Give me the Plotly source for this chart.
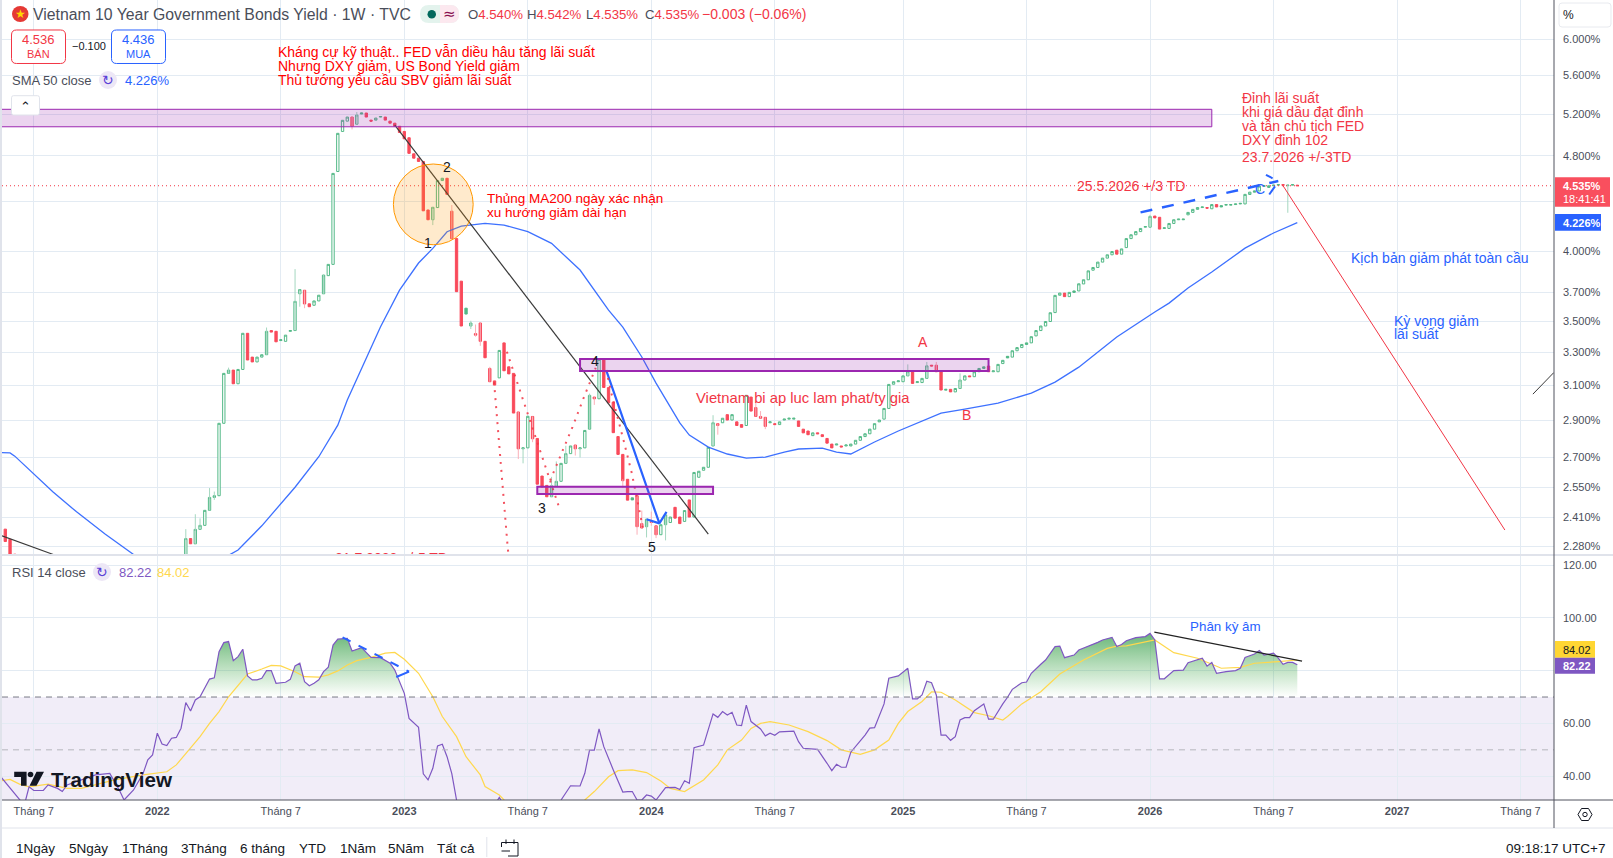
import math
import plotly.graph_objects as go

W = 1613
H = 858

# week index: 0 is the first bar of Jan 2022, the axis counts bars like TradingView does
weeks = [-32, -31, -30] + list(range(6, 241))
opens = [2.355, 2.31, 2.245,
    2.20, 2.313, 2.29, 2.354, 2.372, 2.441, 2.502, 2.51, 2.882, 3.17,
    3.19, 3.108, 3.194, 3.422, 3.27, 3.24, 3.27, 3.285, 3.44, 3.435,
    3.375, 3.37, 3.435, 3.44, 3.69, 3.715, 3.62, 3.61, 3.64, 3.69,
    3.82, 3.903, 4.66, 5.03, 5.13, 5.17, 5.10, 5.20, 5.21, 5.14,
    5.14, 5.17, 5.17, 5.13, 5.11, 5.08, 5.03, 4.97, 4.82, 4.78,
    4.75, 4.33, 4.25, 4.35, 4.58, 4.60, 4.32, 4.10, 3.78, 3.55,
    3.47, 3.42, 3.49, 3.37, 3.20, 3.125, 3.143, 3.36, 3.21, 3.17,
    2.945, 2.745, 2.75, 2.92, 2.80, 2.606, 2.56, 2.505, 2.555, 2.58,
    2.67, 2.72, 2.765, 2.745, 2.75, 2.85, 3.03, 3.02, 3.26, 3.085,
    3.0, 2.81, 2.716, 2.59, 2.49, 2.51, 2.38, 2.366, 2.39, 2.37,
    2.33, 2.375, 2.385, 2.455, 2.41, 2.39, 2.49, 2.41, 2.60, 2.635,
    2.65, 2.76, 2.88, 2.885, 2.93, 2.90, 2.89, 2.875, 2.87, 3.03,
    2.97, 2.92, 2.915, 2.885, 2.88, 2.875, 2.90, 2.905, 2.905, 2.895,
    2.85, 2.84, 2.815, 2.83, 2.82, 2.80, 2.77, 2.765, 2.76, 2.76,
    2.76, 2.77, 2.79, 2.81, 2.825, 2.85, 2.89, 2.905, 2.965, 3.105,
    3.12, 3.12, 3.155, 3.18, 3.115, 3.115, 3.14, 3.22, 3.22, 3.18,
    3.07, 3.075, 3.06, 3.08, 3.13, 3.155, 3.15, 3.18, 3.20, 3.215,
    3.18, 3.18, 3.23, 3.265, 3.27, 3.31, 3.33, 3.35, 3.36, 3.405,
    3.44, 3.47, 3.50, 3.56, 3.68, 3.695, 3.67, 3.70, 3.71, 3.76,
    3.79, 3.86, 3.88, 3.92, 3.95, 3.975, 4.01, 3.98, 4.03, 4.10,
    4.13, 4.155, 4.19, 4.19, 4.28, 4.27, 4.18, 4.18, 4.22, 4.25,
    4.25, 4.29, 4.31, 4.335, 4.35, 4.35, 4.34, 4.375, 4.355, 4.37,
    4.37, 4.375, 4.38, 4.38, 4.46, 4.48, 4.49, 4.53, 4.52, 4.535,
    4.54, 4.545, 4.535, 4.54, 4.540]
closes = [2.30, 2.242, 2.243,
    2.313, 2.29, 2.354, 2.372, 2.441, 2.502, 2.51, 2.882, 3.17, 3.19,
    3.108, 3.194, 3.422, 3.252, 3.24, 3.27, 3.285, 3.435, 3.43, 3.367,
    3.38, 3.41, 3.44, 3.637, 3.72, 3.619, 3.60, 3.64, 3.68, 3.824,
    3.903, 4.643, 5.012, 5.138, 5.17, 5.08, 5.19, 5.21, 5.17, 5.13,
    5.16, 5.175, 5.14, 5.11, 5.08, 5.02, 4.96, 4.824, 4.78, 4.75,
    4.323, 4.25, 4.352, 4.579, 4.60, 4.461, 4.099, 3.705, 3.47, 3.59,
    3.49, 3.41, 3.37, 3.266, 3.12, 3.10, 3.312, 3.186, 3.167, 2.939,
    2.745, 2.75, 2.921, 2.798, 2.566, 2.552, 2.505, 2.558, 2.58, 2.67,
    2.72, 2.76, 2.745, 2.75, 2.843, 3.04, 3.02, 3.256, 3.086, 2.997,
    2.831, 2.716, 2.583, 2.489, 2.50, 2.366, 2.36, 2.40, 2.385, 2.33,
    2.375, 2.42, 2.41, 2.405, 2.38, 2.44, 2.41, 2.624, 2.63, 2.65,
    2.753, 2.885, 2.87, 2.91, 2.90, 2.93, 2.87, 2.86, 3.04, 2.95,
    2.92, 2.91, 2.865, 2.89, 2.875, 2.89, 2.905, 2.91, 2.91, 2.865,
    2.83, 2.82, 2.83, 2.825, 2.81, 2.775, 2.75, 2.77, 2.755, 2.765,
    2.77, 2.79, 2.81, 2.825, 2.85, 2.88, 2.90, 2.965, 3.104, 3.12,
    3.125, 3.155, 3.18, 3.11, 3.12, 3.14, 3.216, 3.215, 3.18, 3.071,
    3.075, 3.06, 3.08, 3.13, 3.155, 3.15, 3.18, 3.20, 3.21, 3.18,
    3.185, 3.225, 3.25, 3.275, 3.31, 3.33, 3.35, 3.36, 3.40, 3.44,
    3.47, 3.50, 3.559, 3.679, 3.695, 3.67, 3.70, 3.71, 3.761, 3.79,
    3.855, 3.88, 3.92, 3.95, 3.975, 4.00, 3.98, 4.02, 4.10, 4.13,
    4.155, 4.18, 4.195, 4.277, 4.265, 4.175, 4.185, 4.22, 4.25, 4.255,
    4.255, 4.31, 4.335, 4.35, 4.355, 4.345, 4.375, 4.355, 4.365, 4.375,
    4.375, 4.38, 4.385, 4.461, 4.48, 4.49, 4.532, 4.535, 4.535, 4.54,
    4.545, 4.54, 4.54, 4.545, 4.535]
# down weeks TradingView paints solid green (close above the previous close)
solid_green = [12, 43, 65, 89, 100, 179, 183, 193, 224, 231, 238]

wick_weeks = [6, 8, 9, 11, 12, 15, 23, 29, 30, 31, 35, 41, 42, 58, 62, 66, 67, 68, 70,
              76, 77, 79, 83, 84, 86, 88, 89, 91, 92, 98, 101, 102, 103, 104, 105, 107,
              117, 118, 126, 127, 128, 158, 162, 164, 169, 209, 238]
wick_highs = [2.355, 2.423, 2.404, 2.547, 2.53, 3.205, 3.46, 3.868, 3.72, 3.715, 3.83, 5.17, 5.22,
              4.352, 4.371, 3.505, 3.48, 3.49, 3.21, 2.945, 2.75, 2.92, 2.602, 2.68, 2.761, 2.765,
              2.75, 3.05, 3.03, 2.59, 2.51, 2.44, 2.40, 2.435, 2.37, 2.42,
              2.927, 2.88, 3.00, 2.95, 2.915, 3.225, 3.24, 3.24, 3.17, 4.29, 4.545]
wick_lows = [2.19, 2.29, 2.354, 2.441, 2.49, 3.17, 3.285, 3.44, 3.60, 3.59, 3.69, 5.05, 5.10,
             4.207, 4.099, 3.45, 3.40, 3.341, 3.12, 2.692, 2.67, 2.78, 2.505, 2.555, 2.67, 2.71,
             2.70, 2.85, 2.985, 2.547, 2.33, 2.36, 2.318, 2.37, 2.315, 2.305,
             2.76, 2.82, 2.92, 2.91, 2.85, 3.155, 3.14, 3.18, 3.08, 4.19, 4.307]

sma_left_weeks = [-33, -31, -30, -28, -25, -22, -17, -11, -5]
sma_left = [2.726, 2.724, 2.707, 2.661, 2.590, 2.529, 2.434, 2.333, 2.244]
sma_weeks = [15, 17, 22, 29, 34, 38, 40, 47, 51, 55, 58, 61, 64, 69, 73, 78, 83, 89, 95, 98,
             102, 105, 110, 112, 116, 120, 124, 128, 132, 135, 140, 143, 146, 151, 156, 162,
             165, 170, 177, 184, 189, 194, 202, 210, 213, 217, 222, 229, 235, 240]
sma_values = [2.24, 2.263, 2.370, 2.551, 2.704, 2.872, 3.013, 3.465, 3.716, 3.913, 4.024, 4.154,
              4.199, 4.221, 4.207, 4.154, 4.063, 3.861, 3.577, 3.463, 3.271, 3.112, 2.884, 2.818,
              2.754, 2.718, 2.697, 2.702, 2.728, 2.744, 2.749, 2.728, 2.718, 2.781, 2.840, 2.905,
              2.939, 2.961, 2.995, 3.053, 3.118, 3.208, 3.398, 3.564, 3.625, 3.731, 3.846, 4.026,
              4.144, 4.226]

rsi_weeks = [-33, -31, -29, -28, -27, -26, -24, -23, -21, -20, -19, -16, -13, -10, -8, -7, -5, -3,
             -2, -1, 0, 1, 2, 3, 4, 5, 6, 7, 8, 9, 11, 12, 13, 14, 15, 16, 17, 18, 19, 20, 21, 22,
             23, 24, 25, 27, 28, 29, 30, 31, 32, 33, 34, 35, 36, 37, 38, 40, 41, 43, 45, 47, 49,
             50, 51, 52, 53, 55, 56, 57, 58, 59, 60, 61, 62, 63, 66, 70, 72, 73, 78, 83, 85, 87,
             89, 90, 91, 92, 93, 94, 96, 98, 99, 100, 101, 102, 103, 104, 105, 107, 109, 110, 111,
             112, 113, 115, 117, 118, 119, 120, 121, 122, 123, 124, 125, 127, 128, 129, 130, 131,
             134, 135, 136, 139, 141, 142, 143, 144, 145, 146, 149, 150, 151, 153, 154, 156, 158,
             159, 160, 161, 162, 163, 164, 165, 166, 167, 168, 169, 170, 171, 172, 174, 175, 176,
             178, 179, 180, 182, 183, 184, 186, 187, 189, 190, 191, 193, 194, 196, 198, 199, 201,
             202, 203, 204, 206, 208, 209, 210, 211, 212, 214, 216, 217, 220, 221, 222, 223, 225,
             227, 228, 229, 231, 232, 233, 235, 236, 237, 238, 239, 240]
rsi_values = [39.9, 35.4, 31, 29, 36, 34.6, 34.6, 36.7, 35.4, 34.2, 36.7, 38.5, 40.5, 41.1, 34.8, 31, 34.8, 41,
              46.2, 48.1, 56.3, 52.2, 51.6, 54.4, 54.7, 58.2, 67.9, 64.7, 68.9, 70.1, 76.8, 77.3, 87.2, 90.6,
              91, 83.8, 85.3, 88.1, 78, 76.5, 76.5, 77.1, 80, 80, 75.2, 75.6, 76.7, 81.8, 82.8, 75.8, 74.3,
              75.2, 76.5, 79.6, 81.3, 89.7, 91.9, 92.2, 87.4, 88.7, 85, 84.9, 82.8, 80.2, 75.8, 71.4, 61.9,
              58.5, 40.9, 38.6, 43, 51.5, 52.1, 47.4, 41, 31, 24, 26, 32, 29, 22, 26, 31, 36.4, 36.3, 41.1,
              49.9, 49.9, 57.9, 51.2, 42.4, 34, 34.2, 34.2, 31, 31, 32.9, 32.5, 31, 35.7, 35.8, 35, 38.3, 37.3,
              50.8, 51.8, 63.6, 62.3, 64.5, 63.2, 64.2, 59.4, 59.2, 66.9, 60.7, 57.9, 55.3, 56.3, 55.5, 56.8,
              57.1, 53.1, 50.6, 50.2, 44.9, 42.1, 44.5, 43.4, 43.4, 49.1, 55.6, 58.2, 58.4, 67.4, 77.1, 78,
              80.9, 69.3, 69.3, 70.8, 76, 75.4, 70.8, 55.6, 55.6, 53.6, 55, 61.3, 62.2, 62.2, 64.8, 67.4, 61.6,
              61.6, 67.4, 69.9, 72.9, 75.4, 75.7, 79, 82.4, 84, 89.1, 89.3, 84.9, 85.9, 87.8, 89.1, 90.7, 91.6,
              92.6, 89.1, 89.9, 91.3, 92.5, 92.9, 94.1, 91.6, 76.9, 76.9, 80, 80.2, 83, 84.7, 81.7, 83.1, 79,
              79.6, 80, 80.9, 85, 86.3, 87.6, 85.9, 86.6, 84.7, 82.4, 83.1, 83.1, 82.22]
rsi_ma_weeks = [-33, -31, -29, -27, -23, -19, -16, -9, -3, 2, 4, 7, 9, 11, 13, 15, 17, 19, 22, 24, 26,
                29, 31, 34, 36, 38, 40, 42, 45, 48, 50, 52, 55, 58, 60, 63, 65, 68, 69, 72, 73, 76, 82,
                88, 90, 92, 95, 97, 100, 103, 106, 108, 111, 115, 118, 120, 123, 125, 127, 129, 133,
                137, 141, 144, 148, 151, 154, 156, 158, 161, 163, 165, 168, 172, 175, 178, 179, 182,
                186, 190, 195, 200, 202, 204, 210, 214, 219, 224, 228, 231, 236, 240]
rsi_ma_values = [38.3, 38.8, 37, 36, 37, 35.4, 35.4, 38.6, 40.5, 41.7, 44.3, 50.6, 55, 60, 64.5, 70.1, 74.6,
                 78.7, 80.6, 82, 81.8, 79.6, 77.7, 77.5, 78.4, 79.9, 82.1, 83.8, 85, 86.6, 86.9, 84.3, 79,
                 70.1, 62.6, 55, 47.4, 40.5, 36.1, 32.9, 31, 27, 24, 27, 31, 34.2, 39.8, 42.1, 42.4, 41.4,
                 38.2, 35.4, 34.2, 38.6, 44.3, 50, 53.7, 58.1, 60, 60.7, 59.4, 56.9, 53.5, 50, 48.3, 50,
                 53.7, 60, 64.5, 68.3, 72, 71.8, 68.9, 64.1, 62.9, 61.3, 62.6, 67.4, 72, 78.7, 84, 88.4,
                 89.3, 89.4, 91.6, 86.8, 84.7, 80.9, 81.2, 82.8, 83.4, 84.02]

y_ticks = [6.0, 5.6, 5.2, 4.8, 4.4, 4.0, 3.7, 3.5, 3.3, 3.1, 2.9, 2.7, 2.55, 2.41, 2.28]
rsi_ticks = [120, 100, 80, 60, 40]
x_ticks = [-26, 0, 26, 52, 78, 104, 130, 157, 183, 209, 235, 261, 287]
x_labels = ["Tháng 7", "<b>2022</b>", "Tháng 7", "<b>2023</b>", "Tháng 7", "<b>2024</b>", "Tháng 7",
            "<b>2025</b>", "Tháng 7", "<b>2026</b>", "Tháng 7", "<b>2027</b>", "Tháng 7"]

# drawings on the chart, week index and yield
zone_weeks = [(-33, 222), (89, 175), (80, 117)]
zone_tops = [5.247, 3.258, 2.553]
zone_bottoms = [5.075, 3.184, 2.518]
zone_widths = [1, 2, 2]
trend_weeks = [50, 116]
trend_values = [5.09, 2.333]
old_trend_weeks = [-32.7, -21.9]
old_trend_values = [2.325, 2.244]
far_trend_weeks = [289.6, 294]
far_trend_values = [3.047, 3.175]
wave_weeks = [94.5, 105.7, 107.2]
wave_values = [3.19, 2.381, 2.434]
wave_tail_weeks = [103, 105.7]
wave_tail_values = [2.40, 2.381]
scenario_weeks = [237, 283.7]
scenario_values = [4.535, 2.351]
channel_weeks = [207, 236]
channel_values = [4.31, 4.576]
channel_tip_weeks = [233.4, 234.8]
channel_tip_values = [4.63, 4.60]
channel_back_weeks = [234.1, 235.3]
channel_back_values = [4.46, 4.53]
dot_curves = [
    ([70.9, 72, 72.8, 73.8, 74.2], [3.117, 2.761, 2.520, 2.266, 2.21]),
    ([73.6, 75.7, 78, 79.6, 81.7, 83.8, 84.8], [3.304, 3.120, 2.943, 2.818, 2.661, 2.510, 2.441]),
    ([82.7, 84.8, 87.4, 89.8, 92.3], [2.584, 2.702, 2.861, 3.028, 3.204]),
    ([94.5, 95.7, 98.2, 99.9, 102.2], [3.19, 3.041, 2.786, 2.620, 2.363]),
]
circle_weeks = [49.7, 66.5]
circle_values = [4.052, 4.727]
rsi_trend_weeks = [209.9, 241]
rsi_trend_values = [94.6, 83.6]
rsi_channel_weeks = [39, 53]
rsi_channel_values = [92.6, 79.6]
rsi_hook_weeks = [50.3, 53]
rsi_hook_values = [77.6, 79.6]

GREEN = "#53b987"
RED = "#f94a5b"
TV_RED = "#f23645"
BLUE = "#2962ff"
PURPLE = "#7e57c2"
YELLOW = "#ffd84d"
GRID = "#e3ebf3"
TEXT = "#4a4e5a"
FONT = "Liberation Sans"

PLOT_L = 2
PLOT_R = 1554
MAIN_B = 555
RSI_B = 800
week_range = [(PLOT_L - 157.3) / 4.75, (PLOT_R - 157.3) / 4.75]


def px(x):
    return x / W


def py(y):
    return 1 - y / H


fig = go.Figure()


def add_line(xs, ys, color, width=1, dash="solid", axes=("x", "y"), opacity=1):
    fig.add_trace(go.Scatter(x=xs, y=ys, xaxis=axes[0], yaxis=axes[1], mode="lines", opacity=opacity,
                             line=dict(color=color, width=width, dash=dash), hoverinfo="skip"))


# wicks first, lighter than the bodies
up_wick_x, up_wick_y, down_wick_x, down_wick_y = [], [], [], []
for k, hi, lo in zip(wick_weeks, wick_highs, wick_lows):
    i = weeks.index(k)
    if closes[i] >= opens[i] or k in solid_green:
        up_wick_x += [k, k, None]
        up_wick_y += [hi, lo, None]
    else:
        down_wick_x += [k, k, None]
        down_wick_y += [hi, lo, None]
add_line(up_wick_x, up_wick_y, "#a5d8c0", 1)
add_line(down_wick_x, down_wick_y, "#fbb0b8", 1)

normal = [i for i, k in enumerate(weeks) if k not in solid_green]
solid = [i for i, k in enumerate(weeks) if k in solid_green]


def pick(values, idx):
    return [values[i] for i in idx]


body_hi = [max(o, c) for o, c in zip(opens, closes)]
body_lo = [min(o, c) for o, c in zip(opens, closes)]
fig.add_trace(go.Candlestick(x=pick(weeks, normal), open=pick(opens, normal), high=pick(body_hi, normal),
                             low=pick(body_lo, normal), close=pick(closes, normal),
                             increasing=dict(line=dict(color=GREEN, width=1), fillcolor="white"),
                             decreasing=dict(line=dict(color=RED, width=1), fillcolor=RED),
                             hoverinfo="skip"))
fig.add_trace(go.Candlestick(x=pick(weeks, solid), open=pick(opens, solid), high=pick(body_hi, solid),
                             low=pick(body_lo, solid), close=pick(closes, solid),
                             increasing=dict(line=dict(color=GREEN, width=1), fillcolor=GREEN),
                             decreasing=dict(line=dict(color=GREEN, width=1), fillcolor=GREEN),
                             hoverinfo="skip"))

add_line(sma_left_weeks, sma_left, BLUE, 1.3, opacity=0.9)
add_line(sma_weeks, sma_values, BLUE, 1.3, opacity=0.9)

# last price line
add_line(week_range, [closes[-1], closes[-1]], TV_RED, 1, "1px,3px")

# hand drawn lines
add_line(trend_weeks, trend_values, "#3a3a3a", 1.2)
add_line(old_trend_weeks, old_trend_values, "#3a3a3a", 1.2)
add_line(far_trend_weeks, far_trend_values, "#3a3a3a", 1)
add_line(wave_weeks, wave_values, BLUE, 2.2)
add_line(wave_tail_weeks, wave_tail_values, BLUE, 2.2)
add_line(scenario_weeks, scenario_values, TV_RED, 1)
add_line(channel_weeks, channel_values, BLUE, 2.5, "12px,10px")
add_line(channel_tip_weeks, channel_tip_values, BLUE, 2)
add_line(channel_back_weeks, channel_back_values, BLUE, 2)
for cx, cy in dot_curves:
    add_line(cx, cy, TV_RED, 2, "2px,6px", opacity=0.85)

# text that runs off the bottom of the pane in the original
fig.add_trace(go.Scatter(x=[49.3], y=[2.224], mode="text", text=["21.7.2022 +/-5 TD"], cliponaxis=True,
                         textfont=dict(color=TV_RED, size=14, family=FONT), hoverinfo="skip"))

# RSI pane
rsi_top = [max(v, 70) for v in rsi_values]
fig.add_trace(go.Scatter(x=rsi_weeks + rsi_weeks[::-1], y=rsi_top + [70] * len(rsi_weeks), xaxis="x2", yaxis="y2",
                         mode="lines", line=dict(width=0), fill="toself",
                         fillgradient=dict(type="vertical", start=70, stop=95,
                                           colorscale=[[0, "rgba(76,175,80,0)"], [1, "rgba(60,160,80,0.8)"]]),
                         hoverinfo="skip"))
add_line(rsi_ma_weeks, rsi_ma_values, YELLOW, 1.2, axes=("x2", "y2"))
add_line(rsi_weeks, rsi_values, PURPLE, 1.2, axes=("x2", "y2"))
add_line(rsi_trend_weeks, rsi_trend_values, "#222222", 1.2, axes=("x2", "y2"))
add_line(rsi_channel_weeks, rsi_channel_values, BLUE, 2, "9px,9px", axes=("x2", "y2"))
add_line(rsi_hook_weeks, rsi_hook_values, BLUE, 2, axes=("x2", "y2"))

axis_common = dict(showgrid=True, gridcolor=GRID, gridwidth=1, zeroline=False, showline=False)
fig.update_layout(
    width=W, height=H, margin=dict(l=0, r=0, t=0, b=0, pad=0), showlegend=False,
    paper_bgcolor="white", plot_bgcolor="white", hovermode=False,
    font=dict(family=FONT, color=TEXT, size=12),
    xaxis=dict(domain=[px(PLOT_L), px(PLOT_R)], range=week_range, anchor="y", tickmode="array", tickvals=x_ticks,
               ticktext=x_labels, showticklabels=False, rangeslider=dict(visible=False), **axis_common),
    xaxis2=dict(domain=[px(PLOT_L), px(PLOT_R)], range=week_range, anchor="y2", matches="x", tickmode="array",
                tickvals=x_ticks, ticktext=x_labels, ticks="", tickfont=dict(size=11, color=TEXT),
                ticklabelstandoff=3, rangeslider=dict(visible=False), **axis_common),
    yaxis=dict(domain=[py(MAIN_B), 1], type="log", range=[math.log10(2.2416), math.log10(6.464)], anchor="x",
               side="right", tickmode="array", tickvals=y_ticks,
               ticktext=["" if v == 4.4 else "%.3f%%" % v for v in y_ticks], ticks="", ticklabelstandoff=8,
               tickfont=dict(size=11, color=TEXT), **axis_common),
    yaxis2=dict(domain=[py(RSI_B), py(MAIN_B)], range=[31.0, 123.79], anchor="x2", side="right", tickmode="array",
                tickvals=rsi_ticks, ticktext=["" if v == 80 else "%.2f" % v for v in rsi_ticks], ticks="",
                ticklabelstandoff=8, tickfont=dict(size=11, color=TEXT), **axis_common),
)


def label(x, y, text, color=TEXT, size=13, anchor="left", family=FONT):
    # annotations sit about a pixel right of their anchor
    if anchor == "left":
        x -= 1
    fig.add_annotation(xref="paper", yref="paper", x=px(x), y=py(y), text=text, showarrow=False, xanchor=anchor,
                       yanchor="middle", align=anchor if anchor != "center" else "center", borderpad=0,
                       font=dict(color=color, size=size, family=family))


def box(x0, y0, x1, y1, fill="white", line=None, width=1, layer="above"):
    fig.add_shape(type="rect", xref="paper", yref="paper", x0=px(x0), x1=px(x1), y0=py(y0), y1=py(y1),
                  fillcolor=fill, line=dict(color=line or fill, width=width if line else 0), layer=layer)


def round_box(x0, y0, x1, y1, r, fill="white", line=None, width=1):
    p = "M %f %f L %f %f Q %f %f %f %f L %f %f Q %f %f %f %f L %f %f Q %f %f %f %f L %f %f Q %f %f %f %f Z" % (
        px(x0 + r), py(y0), px(x1 - r), py(y0), px(x1), py(y0), px(x1), py(y0 + r), px(x1), py(y1 - r), px(x1), py(y1),
        px(x1 - r), py(y1), px(x0 + r), py(y1), px(x0), py(y1), px(x0), py(y1 - r), px(x0), py(y0 + r), px(x0), py(y0),
        px(x0 + r), py(y0))
    fig.add_shape(type="path", xref="paper", yref="paper", path=p, fillcolor=fill,
                  line=dict(color=line or fill, width=width if line else 0))


def rule(x0, y0, x1, y1, color, width=1, dash="solid"):
    fig.add_shape(type="line", xref="paper", yref="paper", x0=px(x0), x1=px(x1), y0=py(y0), y1=py(y1),
                  line=dict(color=color, width=width, dash=dash))


def poly(points, fill=None, line=None, width=1):
    p = "M " + " L ".join("%f %f" % (px(a), py(b)) for a, b in points) + " Z"
    fig.add_shape(type="path", xref="paper", yref="paper", path=p, fillcolor=fill or "rgba(0,0,0,0)",
                  line=dict(color=line or "rgba(0,0,0,0)", width=width if line else 0))


# RSI band and its levels
fig.add_shape(type="rect", xref="x2 domain", yref="y2", x0=0, x1=1, y0=31.0, y1=70, layer="below", line=dict(width=0),
              fillcolor="rgba(126,87,194,0.11)")
fig.add_shape(type="line", xref="x2 domain", yref="y2", x0=0, x1=1, y0=70, y1=70, line=dict(color="#787b86", width=1, dash="6px,5px"))
fig.add_shape(type="line", xref="x2 domain", yref="y2", x0=0, x1=1, y0=50, y1=50, line=dict(color="#b5b6bd", width=1, dash="6px,5px"))

# zones and circle use data values on the log axis
for (k0, k1), top, bottom, w in zip(zone_weeks, zone_tops, zone_bottoms, zone_widths):
    fig.add_shape(type="rect", xref="x", yref="y", x0=k0, x1=k1, y0=bottom, y1=top, fillcolor="rgba(156,39,176,0.2)",
                  line=dict(color="#9c27b0", width=w))
fig.add_shape(type="circle", xref="x", yref="y", x0=circle_weeks[0], x1=circle_weeks[1], y0=circle_values[0],
              y1=circle_values[1], fillcolor="rgba(255,152,0,0.2)", line=dict(color="#ff9800", width=1))

# frame of the chart
box(0, 0, 2, 858, "#e0e3eb")
rule(2, 555, 1613, 555, "#e0e3eb", 2)
rule(2, 800, 1613, 800, "#50535e", 1)
rule(0, 828, 1613, 828, "#e0e3eb", 1)
rule(1554, 0, 1554, 828, "#50535e", 1)

# header
fig.add_shape(type="circle", xref="paper", yref="paper", x0=px(12), x1=px(28.5), y0=py(22), y1=py(6),
              fillcolor="#e53935", line=dict(width=0))
label(20, 14, "★", "#ffd600", 12, "center", "DejaVu Sans")
label(32.5, 14, "Vietnam 10 Year Government Bonds Yield · 1W · TVC", TEXT, 15.8)
round_box(420, 5, 459, 23, 9, "#e3f3ed")
round_box(440, 5, 459, 23, 9, "#fce8ef")
box(440, 5, 446, 23, "#fce8ef")
fig.add_shape(type="circle", xref="paper", yref="paper", x0=px(427.5), x1=px(436), y0=py(18.5), y1=py(10),
              fillcolor="#00695c", line=dict(width=0))
label(449, 14, "≈", "#880e4f", 15, "center", "DejaVu Sans")
red_span = "<span style='color:%s'>%%s</span>" % TV_RED
label(467.5, 14, "O" + red_span % "4.540%", TEXT, 13.2)
label(527, 14, "H" + red_span % "4.542%", TEXT, 13.2)
label(586, 14, "L" + red_span % "4.535%", TEXT, 13.2)
label(645, 14, "C" + red_span % "4.535%", TEXT, 13.2)
label(702, 14, "−0.003 (−0.06%)", TV_RED, 14)

round_box(11.5, 30, 65.5, 63.5, 5, "white", TV_RED)
label(38.5, 40, "4.536", TV_RED, 13, "center")
label(38.5, 54, "BÁN", TV_RED, 11, "center")
label(88.8, 46.5, "−0.100", "#131722", 11, "center")
round_box(111.5, 30, 165.5, 63.5, 5, "white", BLUE)
label(138.5, 40, "4.436", BLUE, 13, "center")
label(138.5, 54, "MUA", BLUE, 11, "center")

label(11.5, 80.3, "SMA 50 close", TEXT, 13)
fig.add_shape(type="circle", xref="paper", yref="paper", x0=px(99), x1=px(117), y0=py(89), y1=py(71),
              fillcolor="#ede7f6", line=dict(width=0))
label(108, 80, "↻", "#5b3fd6", 14, "center", "DejaVu Sans")
label(125, 80.3, "4.226%", BLUE, 13)
round_box(11.5, 95.7, 39.5, 115, 2, "white", "#e0e3eb")
label(25.5, 106, "⌃", "#131722", 13, "center", "DejaVu Sans")

# notes on the chart
for i, t in enumerate(["Kháng cự kỹ thuật.. FED vẫn diều hâu tăng lãi suất", "Nhưng DXY giảm, US Bond Yield giảm",
                       "Thủ tướng yêu cầu SBV giảm lãi suất"]):
    label(278, 52.3 + 14 * i, t, "#ff0000", 14)
label(487, 198, "Thủng MA200 ngày xác nhận", "#ff0000", 13.5)
label(487, 212.7, "xu hướng giảm dài hạn", "#ff0000", 13.5)
for i, t in enumerate(["Đỉnh lãi suất", "khi giá dầu đạt đỉnh", "và tân chủ tịch FED", "DXY đỉnh 102"]):
    label(1242, 98 + 14 * i, t, TV_RED, 14)
label(1242, 157, "23.7.2026 +/-3TD", TV_RED, 14)
label(1076.7, 186, "25.5.2026 +/3 TD", TV_RED, 14)
label(696, 398, "Vietnam bi ap luc lam phat/ty gia", TV_RED, 14.8)
label(923, 341.7, "A", TV_RED, 14, "center")
label(966, 415, "B", TV_RED, 14, "center")
label(428, 243, "1", "#131722", 14, "center")
label(447, 167, "2", "#131722", 14, "center")
label(542, 508, "3", "#131722", 14, "center")
label(595, 360.7, "4", "#131722", 14, "center")
label(652, 547, "5", "#131722", 14, "center")
label(1260, 189, "C", BLUE, 14, "center")
label(1351, 258, "Kịch bản giảm phát toàn cầu", BLUE, 14)
label(1394, 321, "Kỳ vọng giảm", BLUE, 14)
label(1394, 334.5, "lãi suất", BLUE, 14)
label(1190, 626.7, "Phân kỳ âm", BLUE, 13.4)

# RSI legend
label(11.5, 572.3, "RSI 14 close", TEXT, 13)
fig.add_shape(type="circle", xref="paper", yref="paper", x0=px(93), x1=px(111), y0=py(581), y1=py(563),
              fillcolor="#ede7f6", line=dict(width=0))
label(102, 572, "↻", "#5b3fd6", 14, "center", "DejaVu Sans")
label(118.6, 572.3, "82.22", PURPLE, 13)
label(157, 572.3, "84.02", YELLOW, 13)

# price scale
round_box(1559, 3, 1611, 27, 3, "white", "#e8eaef")
label(1562.5, 14.7, "%", "#131722", 12)
box(1555, 177.3, 1610, 206.7, "#f94f5e")
label(1563, 186, "<b>4.535%</b>", "white", 11)
label(1563, 199, "18:41:41", "white", 11)
box(1555, 214, 1601, 230.7, BLUE)
label(1563, 222.5, "<b>4.226%</b>", "white", 11)
box(1555, 641, 1595, 657.7, "#ffd633")
label(1563, 649.5, "84.02", "#131722", 11)
box(1555, 657.7, 1595, 673.7, PURPLE)
label(1563, 666, "<b>82.22</b>", "white", 11)

# logo
poly([(14.2, 771.7), (26.6, 771.7), (26.6, 785.7), (21, 785.7), (21, 777), (14.2, 777)], fill="#131722")
fig.add_shape(type="circle", xref="paper", yref="paper", x0=px(27.7), x1=px(33.3), y0=py(777.3), y1=py(771.7),
              fillcolor="#131722", line=dict(width=0))
poly([(36.5, 771.7), (44, 771.7), (36.5, 785.7), (29.5, 785.7)], fill="#131722")
label(51, 779, "<b>TradingView</b>", "#131722", 20.6)

# bottom toolbar
for x, t in zip([16, 69, 121.7, 180.6, 240, 298.5, 339.5, 388.4, 437.4],
                ["1Ngày", "5Ngày", "1Tháng", "3Tháng", "6 tháng", "YTD", "1Năm", "5Năm", "Tất cả"]):
    label(x, 848, t, "#131722", 13.5)
rule(486.8, 837, 486.8, 857, "#e0e3eb", 1)
rule(501.5, 842.5, 518, 842.5, "#131722", 1)
rule(518, 842.5, 518, 856, "#131722", 1)
rule(518, 856, 508, 856, "#131722", 1)
rule(501.5, 842.5, 501.5, 847, "#131722", 1)
rule(501.5, 851, 510, 851, "#131722", 1)
rule(506, 839.5, 506, 844, "#131722", 1)
rule(514, 839.5, 514, 844, "#131722", 1)
label(1606, 848, "09:18:17 UTC+7", "#131722", 13.5, "right")

# settings hexagon
poly([(1578, 814.5), (1581.5, 808.5), (1588.5, 808.5), (1592, 814.5), (1588.5, 820.5), (1581.5, 820.5)], line="#131722")
fig.add_shape(type="circle", xref="paper", yref="paper", x0=px(1582.8), x1=px(1587.2), y0=py(816.7), y1=py(812.3),
              line=dict(color="#131722", width=1))

fig.write_html("out.html", config={"displayModeBar": False}, post_script="document.body.style.margin='0';")
